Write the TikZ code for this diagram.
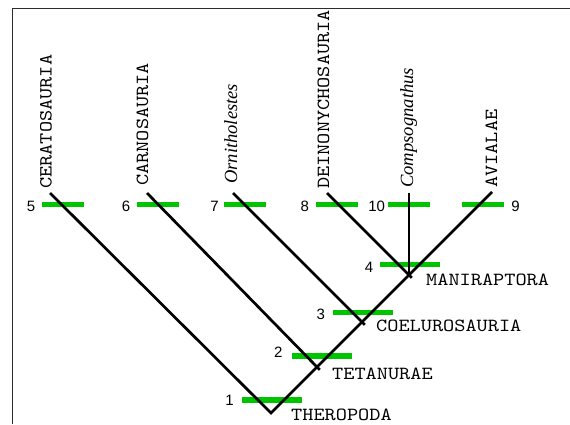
\documentclass[tikz,border=0pt]{standalone}
\usepackage{fontspec}
\usepackage{graphicx}
\setmainfont{Liberation Serif}
\newfontfamily\cladefont[Extension=.otf, UprightFont=*-regular, FakeStretch=1.15]{lmmono10}
\newfontfamily\numfont{Liberation Sans}
\definecolor{bargreen}{RGB}{0,196,0}
\definecolor{framegray}{RGB}{45,45,45}
\begin{document}
\begin{tikzpicture}[x=1pt,y=-1pt,
  branch/.style={line width=2.7pt, black, line cap=butt},
  overshoot/.style={shorten >=-4pt},
  bar/.style={rectangle, fill=bargreen, draw=none, inner sep=0pt, minimum height=5.5pt},
  tipbar/.style={bar, minimum width=42pt},
  nodebar/.style={bar, minimum width=60pt},
  num/.style={inner sep=0pt, font=\numfont\fontsize{15}{16}\selectfont},
  taxon/.style={inner sep=0pt, rotate=90, anchor=base west, font=\cladefont\fontsize{18.5}{20}\selectfont},
  genus/.style={inner sep=0pt, rotate=90, anchor=base west, font=\fontsize{18.5}{20}\selectfont\itshape},
  clade/.style={inner sep=0pt, anchor=base west, font=\cladefont\fontsize{18.5}{20}\selectfont}]
\useasboundingbox (0,0) rectangle (570,424);
% frame along the left and top edges
\draw[framegray, line width=1.6pt] (12.5,424) -- (12.5,8.5) -- (570,8.5);

% branch tips and internal nodes
\coordinate (t5) at (50,193);
\coordinate (t6) at (147,193);
\coordinate (t7) at (233,193);
\coordinate (t8) at (327,193);
\coordinate (t10) at (409,193);
\coordinate (t9) at (492,192);
\coordinate (root) at (271,413);
\coordinate (n2) at (317,367);
\coordinate (n3) at (362,322);
\coordinate (n4) at (409,275);

% character bars
\node[tipbar] (b5) at (63,204.5) {};
\node[tipbar] (b6) at (158,204.5) {};
\node[tipbar] (b7) at (245,204.5) {};
\node[tipbar] (b8) at (337,204.5) {};
\node[tipbar] (b10) at (409,204.5) {};
\node[tipbar] (b9) at (483,204.5) {};
\node[nodebar] (b4) at (410,264.5) {};
\node[nodebar] (b3) at (363,312.5) {};
\node[nodebar] (b2) at (322,356) {};
\node[nodebar] (b1) at (272,400) {};

% tree
\draw[branch] (t5) -- (root) -- (t9);
\draw[branch, overshoot] (t6) -- (n2);
\draw[branch, overshoot] (t7) -- (n3);
\draw[branch, overshoot] (t8) -- (n4);
\draw[branch] (t10) -- (n4);

% bar numbers
\node[num] (l5) at (31,206) {5};
\node[num] (l6) at (126,206) {6};
\node[num] (l7) at (214.5,206) {7};
\node[num] (l8) at (304.7,206) {8};
\node[num] (l10) at (376.7,206) {10};
\node[num] (l9) at (515.5,206) {9};
\node[num] (l4) at (369,267) {4};
\node[num] (l3) at (320.8,314) {3};
\node[num] (l2) at (278.3,352.5) {2};
\node[num] (l1) at (229.5,400) {1};

% terminal taxa
\node[taxon] (x5) at (51.5,189) {CERATOSAURIA};
\node[taxon] (x6) at (148,186) {CARNOSAURIA};
\node[genus] (x7) at (237,184) {\resizebox{100pt}{!}{Ornitholestes}};
\node[taxon] (x8) at (329,189) {DEINONYCHOSAURIA};
\node[genus] (x10) at (413,188) {\resizebox{120pt}{!}{Compsognathus}};
\node[taxon] (x9) at (497,188) {AVIALAE};

% clade names
\node[clade] (c4) at (426,285) {MANIRAPTORA};
\node[clade] (c3) at (376,331.5) {COELUROSAURIA};
\node[clade] (c2) at (332,379) {TETANURAE};
\node[clade] (c1) at (291,420.5) {THEROPODA};
\end{tikzpicture}
\end{document}
